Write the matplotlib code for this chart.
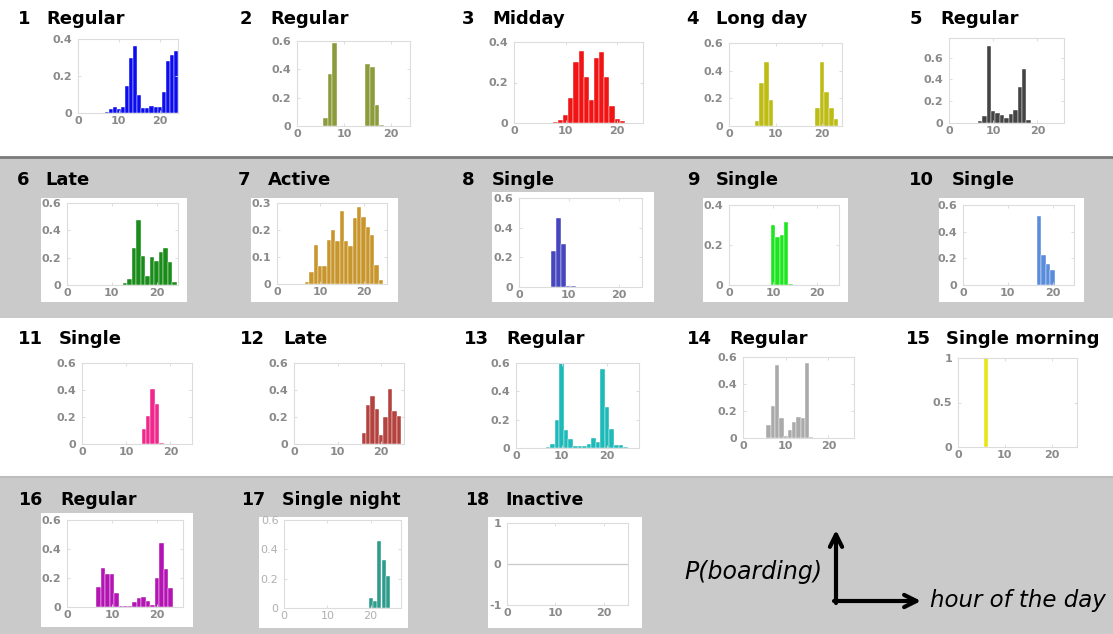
import numpy as np
import matplotlib
matplotlib.use('Agg')
import matplotlib.pyplot as plt
import matplotlib.patches as patches
from matplotlib import ticker

# cluster names and colours
names = ['Regular', 'Regular', 'Midday', 'Long day', 'Regular',
         'Late', 'Active', 'Single', 'Single', 'Single',
         'Single', 'Late', 'Regular', 'Regular', 'Single morning',
         'Regular', 'Single night', 'Inactive']
colors = ['#0c0cf0', '#8c9c3c', '#f01414', '#bcbc14', '#444444',
          '#1a8c1a', '#c8962c', '#4646be', '#1ee61e', '#5a8cdc',
          '#f0288c', '#b4423f', '#1eb9b9', '#aaaaaa', '#e6e614',
          '#b414b4', '#2e9c8c', '#ffffff']

# P(boarding) per hour, first value is at hour start_k
p01 = [0.003, 0.02, 0.03, 0.02, 0.03, 0.145, 0.30, 0.36, 0.095, 0.025, 0.028,
       0.04, 0.035, 0.035, 0.115, 0.28, 0.315, 0.335]
p02 = [0.055, 0.365, 0.585, 0, 0, 0, 0, 0, 0, 0.435, 0.415, 0.148, 0.005]
p03 = [0.005, 0.015, 0.04, 0.125, 0.30, 0.355, 0.225, 0.115, 0.32, 0.35,
       0.225, 0.085, 0.02, 0.01, 0.002]
p04 = [0.034, 0.313, 0.466, 0.19, 0, 0, 0, 0, 0, 0, 0, 0, 0,
       0.13, 0.463, 0.247, 0.13, 0.048]
p05 = [0.016, 0.064, 0.71, 0.112, 0.09, 0.077, 0.048, 0.08, 0.12, 0.33,
       0.495, 0.025, 0.003]
p06 = [0.012, 0.045, 0.268, 0.476, 0.21, 0.065, 0.203, 0.174, 0.243, 0.27,
       0.166, 0.02]
p07 = [0.007, 0.044, 0.143, 0.067, 0.067, 0.164, 0.199, 0.16, 0.269, 0.158,
       0.14, 0.244, 0.284, 0.25, 0.21, 0.183, 0.069, 0.016]
p08 = [0.243, 0.462, 0.288, 0.005, 0.004]
p09 = [0.30, 0.242, 0.25, 0.317, 0.003]
p10 = [0.521, 0.227, 0.156, 0.113]
p11 = [0.11, 0.208, 0.404, 0.294, 0.008]
p12 = [0.003, 0.081, 0.286, 0.358, 0.262, 0.064, 0.198, 0.41, 0.242, 0.205]
p13 = [0.005, 0.025, 0.2, 0.6, 0.128, 0.063, 0.015, 0.015, 0.015, 0.027,
       0.073, 0.04, 0.556, 0.288, 0.137, 0.024, 0.02, 0.007]
p14 = [0.098, 0.238, 0.54, 0.147, 0.012, 0.061, 0.122, 0.152, 0.145, 0.556,
       0.005]
p15 = [0.004, 1.0, 0.004]
p16 = [0.14, 0.27, 0.228, 0.228, 0.1, 0.005, 0.005, 0.01, 0.035, 0.06, 0.07,
       0.04, 0.015, 0.2, 0.44, 0.259, 0.13]
p17 = [0.07, 0.045, 0.46, 0.33, 0.22]
p18 = []

probs = [p01, p02, p03, p04, p05, p06, p07, p08, p09, p10,
         p11, p12, p13, p14, p15, p16, p17, p18]
start_hours = [7, 6, 8, 6, 7, 13, 7, 7, 10, 17, 14, 15, 7, 6, 5, 7, 20, 0]

ymax = [0.4, 0.6, 0.4, 0.6, 0.78, 0.6, 0.3, 0.6, 0.4, 0.6,
        0.6, 0.6, 0.6, 0.6, 1.0, 0.6, 0.6, 1.0]
ystep = [0.2, 0.2, 0.2, 0.2, 0.2, 0.2, 0.1, 0.2, 0.2, 0.2,
         0.2, 0.2, 0.2, 0.2, 0.5, 0.2, 0.2, 1.0]
xmax = [24.5, 24, 25, 24.3, 26, 24.8, 25.4, 24.7, 25, 24.8,
        24.9, 25.2, 27, 26, 25.4, 25.8, 27, 25]

# layout in pixels (x0, y0, x1, y1), y from top
W, H = 1113, 634
axes_px = [(78, 39, 178, 113), (297, 41, 410, 126), (514, 42, 643, 123),
           (729, 43, 842, 126), (949, 38, 1064, 123),
           (67, 203, 178, 285), (277, 203, 387, 284), (519, 198, 642, 287),
           (729, 205, 839, 285), (963, 205, 1074, 285),
           (82, 363, 192, 444), (294, 363, 404, 444), (516, 363, 639, 448),
           (743, 357, 854, 438), (958, 358, 1077, 447),
           (67, 520, 183, 607), (284, 520, 401, 608), (507, 523, 628, 605)]
white_boxes = [(41, 198, 187, 302), (251, 198, 398, 302), (492, 192, 654, 302),
               (703, 198, 848, 302), (939, 198, 1084, 302),
               (41, 513, 193, 627), (259, 517, 408, 628), (488, 517, 642, 628)]
title_px = [(18, 46, 19), (240, 270, 19), (462, 492, 19), (686, 716, 19), (910, 940, 19),
            (17, 45, 180), (238, 268, 180), (462, 492, 180), (687, 716, 180), (909, 952, 180),
            (18, 59, 339), (240, 283, 339), (464, 506, 339), (687, 729, 339), (906, 946, 339),
            (18, 60, 500), (241, 282, 500), (465, 505, 500)]

grey = '#cacaca'
tick_grey = '#8a8a8a'

fig = plt.figure(figsize=(W / 100, H / 100), dpi=100)

bg = fig.add_axes([0, 0, 1, 1], zorder=0)
bg.set_xlim(0, W)
bg.set_ylim(H, 0)
bg.axis('off')

# grey bands for rows 2 and 4
bg.add_patch(patches.Rectangle((0, 157), W, 161, facecolor=grey, edgecolor='none'))
bg.add_patch(patches.Rectangle((0, 477), W, H - 477, facecolor=grey, edgecolor='none'))
bg.plot([0, W], [157, 157], color='#7a7a7a', lw=2)
bg.plot([0, W], [477, 477], color='#bdbdbd', lw=1.5)
for (x0, y0, x1, y1) in white_boxes:
    bg.add_patch(patches.Rectangle((x0, y0), x1 - x0, y1 - y0, facecolor='white', edgecolor='none'))

for i, (nx, tx, ty) in enumerate(title_px):
    fs = 12.5 if i >= 15 else 13
    bg.text(nx, ty, str(i + 1), fontsize=fs, fontweight='bold', va='center', ha='left')
    bg.text(tx, ty, names[i], fontsize=fs, fontweight='bold', va='center', ha='left')

# axis legend arrows
bg.annotate('', xy=(836, 530), xytext=(836, 603),
            arrowprops=dict(arrowstyle='->', lw=3, color='k', mutation_scale=22,
                            shrinkA=0, shrinkB=0))
bg.annotate('', xy=(921, 601), xytext=(834, 601),
            arrowprops=dict(arrowstyle='->', lw=3, color='k', mutation_scale=22,
                            shrinkA=0, shrinkB=0))
bg.text(822, 572, 'P(boarding)', fontsize=17, style='italic', ha='right', va='center')
bg.text(930, 601, 'hour of the day', fontsize=16.5, style='italic', ha='left', va='center')

for i in range(18):
    x0, y0, x1, y1 = axes_px[i]
    ax = fig.add_axes([x0 / W, 1 - y1 / H, (x1 - x0) / W, (y1 - y0) / H], zorder=1)
    ax.set_facecolor('white')
    vals = probs[i]
    hrs = np.arange(start_hours[i], start_hours[i] + len(vals))
    if len(vals) > 0:
        ax.bar(hrs, vals, width=1.0, color=colors[i], edgecolor='white', linewidth=0.3)
    ax.set_xlim(0, xmax[i])
    if i == 17:
        ax.set_ylim(-1, 1)
        ax.set_yticks([-1, 0, 1])
        ax.axhline(0, color='#cccccc', lw=1)
    else:
        ax.set_ylim(0, ymax[i])
        ax.set_yticks(np.arange(0, ymax[i] + 1e-6, ystep[i]))
    ax.set_xticks([0, 10, 20])
    ax.yaxis.set_major_formatter(ticker.FormatStrFormatter('%g'))
    # panel 17 was pasted with thinner, lighter labels
    lab_col = '#b0b0b0' if i == 16 else tick_grey
    ax.tick_params(direction='in', length=2, width=0.6, color='#d8d8d8',
                   top=True, right=True, labelsize=8, labelcolor=lab_col)
    ax.tick_params(axis='y', pad=4)
    ax.tick_params(axis='x', pad=2)
    for lab in ax.get_xticklabels() + ax.get_yticklabels():
        lab.set_fontweight('normal' if i == 16 else 'bold')
    for s in ax.spines.values():
        s.set_color('#dcdcdc')
        s.set_linewidth(0.8)

fig.savefig('out.png', dpi=100)
